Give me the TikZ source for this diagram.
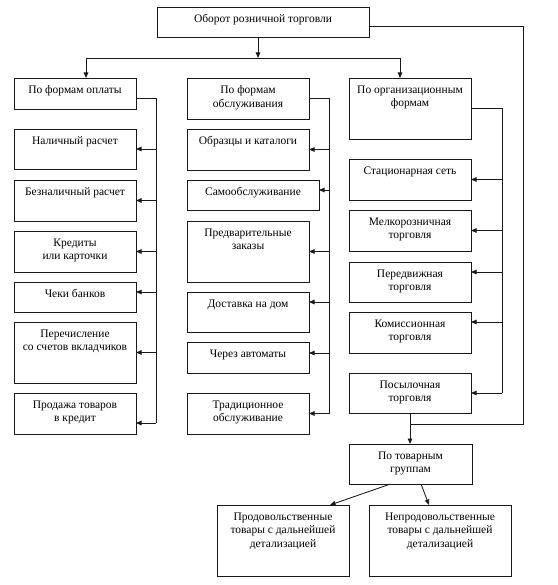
\documentclass[tikz,border=0pt]{standalone}
\usepackage{fontspec}
\setmainfont{Liberation Serif}
\usetikzlibrary{arrows.meta}
\tikzset{
  box/.style={draw=black!90, line width=0.85pt, inner sep=0pt, outer sep=0pt, rectangle},
  lbl/.style={inner sep=0pt, align=center, font=\fontsize{11.5}{13.5}\selectfont, text=black},
  con/.style={draw=black!90, line width=0.85pt},
  arr/.style={con, -{Triangle[length=5.5pt,width=4.5pt]}}
}
\newcommand\bx[6]{%
  \node[box, minimum width=#4pt, minimum height=#5pt, anchor=north west] (#1) at (#2,#3) {};
  \node[lbl, anchor=north] (#1t) at ([yshift=-7.5pt]#1.north) {#6};}
\begin{document}
\begin{tikzpicture}[x=1pt,y=-1pt]
\useasboundingbox (0,0) rectangle (557,585);
\bx{top}{157}{7}{212}{30}{Оборот розничной торговли}
\bx{opl}{14}{78}{122}{31}{По формам оплаты}
\bx{obs}{187}{78}{122}{41}{По формам\\обслуживания}
\bx{org}{349}{78}{122}{61}{По организационным\\формам}
\bx{l1}{14}{129}{122}{40}{Наличный расчет}
\bx{l2}{14}{180}{122}{41}{Безналичный расчет}
\bx{l3}{14}{231}{122}{41}{Кредиты\\или карточки}
\bx{l4}{14}{282}{122}{30}{Чеки банков}
\bx{l5}{14}{322}{122}{61}{Перечисление\\со счетов вкладчиков}
\bx{l6}{14}{393}{122}{41}{Продажа товаров\\в кредит}
\bx{m1}{187}{129}{122}{41}{Образцы и каталоги}
\bx{m2}{187}{180}{132}{30}{Самообслуживание}
\bx{m3}{187}{221}{122}{61}{Предварительные\\заказы}
\bx{m4}{187}{292}{122}{40}{Доставка на дом}
\bx{m5}{187}{342}{122}{31}{Через автоматы}
\bx{m6}{187}{393}{122}{41}{Традиционное\\обслуживание}
\bx{r1}{349}{159}{122}{41}{Стационарная сеть}
\bx{r2}{349}{210}{122}{41}{Мелкорозничная\\торговля}
\bx{r3}{349}{262}{122}{40}{Передвижная\\торговля}
\bx{r4}{349}{312}{122}{41}{Комиссионная\\торговля}
\bx{r5}{349}{373}{122}{40}{Посылочная\\торговля}
\bx{g}{349}{444}{123}{40}{По товарным\\группам}
\bx{p1}{217}{505}{132}{71}{Продовольственные\\товары с дальнейшей\\детализацией}
\bx{p2}{369}{505}{142}{71}{Непродовольственные\\товары с дальнейшей\\детализацией}
% arrow entry points
\coordinate (l4a) at ([yshift=5pt]l4.east);
\coordinate (l6a) at ([yshift=-9.5pt]l6.east);
\coordinate (m2a) at ([yshift=5pt]m2.east);
\coordinate (m4a) at ([yshift=10pt]m4.east);
\coordinate (m5a) at ([yshift=4.5pt]m5.east);
\coordinate (r3a) at ([yshift=10pt]r3.east);
\coordinate (r4a) at ([yshift=10.5pt]r4.east);
% top distribution
\coordinate (hb) at (258,58);
\coordinate (hbl) at (86,58);
\coordinate (hbr) at (400,58);
\draw[arr] (top.south -| hb) -- (hb);
\draw[con] (hbl) -- (hbr);
\draw[arr] (hbl) -- (hbl |- opl.north);
\draw[arr] (hbr) -- (hbr |- org.north);
% right loop to product groups
\coordinate (rr) at (523,424);
\draw[con] ([yshift=-4pt]top.east) -| (rr) -- (rr -| r5.south);
\draw[arr] (r5.south) -- (r5.south |- g.north);
% left bus
\coordinate (lb) at (156,98);
\draw[con] (lb -| opl.east) -- (lb) -- (lb |- l6a);
\draw[arr] (lb |- l1.east) -- (l1.east);
\draw[arr] (lb |- l2.east) -- (l2.east);
\draw[arr] (lb |- l3.east) -- (l3.east);
\draw[arr] (lb |- l4a) -- (l4a);
\draw[arr] (lb |- l5.east) -- (l5.east);
\draw[arr] (lb |- l6a) -- (l6a);
% middle bus
\coordinate (mb) at (329,98);
\draw[con] (mb -| obs.east) -- (mb) -- (mb |- m6.east);
\draw[arr] (mb |- m1.east) -- (m1.east);
\draw[arr] (mb |- m2a) -- (m2a);
\draw[arr] (mb |- m3.east) -- (m3.east);
\draw[arr] (mb |- m4a) -- (m4a);
\draw[arr] (mb |- m5a) -- (m5a);
\draw[arr] (mb |- m6.east) -- (m6.east);
% right bus
\coordinate (rb) at (502,108);
\draw[con] (rb -| org.east) -- (rb) -- (rb |- r5.east);
\draw[arr] (rb |- r1.east) -- (r1.east);
\draw[arr] (rb |- r2.east) -- (r2.east);
\draw[arr] (rb |- r3a) -- (r3a);
\draw[arr] (rb |- r4a) -- (r4a);
\draw[arr] (rb |- r5.east) -- (r5.east);
% product groups
\draw[arr] ([xshift=-20pt]g.south) -- ([xshift=47pt]p1.north);
\draw[arr] ([xshift=10.5pt]g.south) -- ([xshift=-11pt]p2.north);
\end{tikzpicture}
\end{document}
